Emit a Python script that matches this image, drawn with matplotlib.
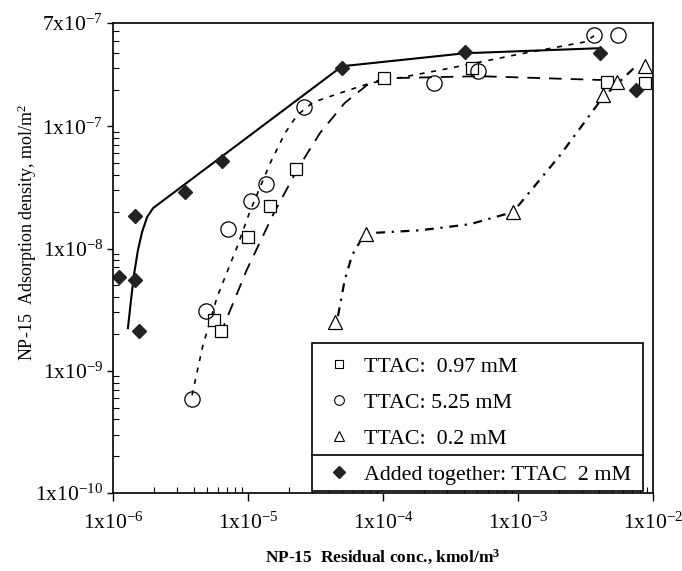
import numpy as np
import matplotlib
matplotlib.use("Agg")
import matplotlib.pyplot as plt
from matplotlib.lines import Line2D
from matplotlib.patches import Rectangle
from matplotlib.ticker import FixedLocator, LogLocator, NullFormatter

plt.rcParams['font.family'] = ['Liberation Serif', 'DejaVu Serif']
plt.rcParams['mathtext.fontset'] = 'custom'
plt.rcParams['mathtext.rm'] = 'Liberation Serif'
plt.rcParams['mathtext.default'] = 'regular'

# TTAC 0.97 mM (squares)
sq_x = [5.6e-6, 6.3e-6, 1.0e-5, 1.46e-5, 2.27e-5, 1.02e-4, 4.6e-4, 4.6e-3, 8.7e-3]
sq_y = [2.6e-9, 2.1e-9, 1.24e-8, 2.22e-8, 4.5e-8, 2.47e-7, 2.99e-7, 2.3e-7, 2.25e-7]
sq_fit_x = [6.2e-6, 9.8e-6, 1.53e-5, 2.31e-5, 3.41e-5, 5.2e-5, 7.6e-5, 1.02e-4, 5.2e-4, 4.8e-3]
sq_fit_y = [1.96e-9, 6.7e-9, 1.88e-8, 4.4e-8, 8.8e-8, 1.55e-7, 2.17e-7, 2.47e-7, 2.57e-7, 2.38e-7]

# TTAC 5.25 mM (circles)
ci_x = [3.85e-6, 4.9e-6, 7.1e-6, 1.05e-5, 1.36e-5, 2.6e-5, 2.39e-4, 5.06e-4, 3.66e-3, 5.5e-3]
ci_y = [5.9e-10, 3.1e-9, 1.44e-8, 2.44e-8, 3.4e-8, 1.43e-7, 2.25e-7, 2.82e-7, 5.56e-7, 5.56e-7]
ci_fit_x = [3.85e-6, 4.6e-6, 5.9e-6, 8.3e-6, 1.03e-5, 1.46e-5, 1.88e-5, 2.31e-5, 3.03e-5,
            4.8e-5, 8.0e-5, 2.64e-4, 1.03e-3, 3.13e-3, 3.66e-3]
ci_fit_y = [6.3e-10, 1.56e-9, 4.0e-9, 1.03e-8, 1.99e-8, 5.0e-8, 8.8e-8, 1.23e-7, 1.57e-7,
            1.87e-7, 2.25e-7, 2.88e-7, 3.9e-7, 4.9e-7, 5.5e-7]

# TTAC 0.2 mM (triangles)
tr_x = [4.4e-5, 7.5e-5, 9.2e-4, 4.26e-3, 5.4e-3, 8.7e-3]
tr_y = [2.5e-9, 1.31e-8, 1.99e-8, 1.8e-7, 2.3e-7, 3.1e-7]
tr_fit_x = [4.64e-5, 5.2e-5, 5.9e-5, 7.0e-5, 8.3e-5, 1.88e-4, 4.4e-4, 9.2e-4, 2.05e-3, 4.26e-3, 7.7e-3]
tr_fit_y = [2.8e-9, 5.5e-9, 8.8e-9, 1.22e-8, 1.34e-8, 1.41e-8, 1.58e-8, 1.99e-8, 5.8e-8, 1.73e-7, 3.2e-7]

# added together, TTAC 2 mM (filled diamonds)
di_x = [1.11e-6, 1.46e-6, 1.56e-6, 1.46e-6, 3.4e-6, 6.4e-6, 4.97e-5, 4.05e-4, 4.05e-3, 7.5e-3]
di_y = [5.8e-9, 5.5e-9, 2.1e-9, 1.84e-8, 2.9e-8, 5.2e-8, 2.99e-7, 4.04e-7, 3.96e-7, 2.0e-7]
di_fit_x = [1.29e-6, 1.36e-6, 1.43e-6, 1.53e-6, 1.64e-6, 1.79e-6, 1.98e-6, 4.97e-5, 4.05e-4, 3.92e-3, 4.05e-3]
di_fit_y = [2.23e-9, 3.8e-9, 6.1e-9, 9.7e-9, 1.36e-8, 1.81e-8, 2.14e-8, 3.1e-7, 3.96e-7, 4.35e-7, 3.96e-7]

labels = ['TTAC:  0.97 mM', 'TTAC: 5.25 mM', 'TTAC:  0.2 mM', 'Added together: TTAC  2 mM']
y_ticks = [1e-10, 1e-9, 1e-8, 1e-7, 7e-7]
y_ticklabels = ['1x10$^{-10}$', '1x10$^{-9}$', '1x10$^{-8}$', '1x10$^{-7}$', '7x10$^{-7}$']
x_ticks = [1e-6, 1e-5, 1e-4, 1e-3, 1e-2]
x_ticklabels = ['1x10$^{-6}$', '1x10$^{-5}$', '1x10$^{-4}$', '1x10$^{-3}$', '1x10$^{-2}$']

fig = plt.figure(figsize=(6.82, 5.71), dpi=100)
ax = fig.add_axes([113 / 682, 1 - 493 / 571, 540 / 682, 470 / 571])
ax.set_xscale('log')
ax.set_yscale('log')

ax.plot(sq_fit_x, sq_fit_y, color='k', lw=1.3, linestyle=(0, (7, 5)))
ax.plot(ci_fit_x, ci_fit_y, color='k', lw=1.2, linestyle=(0, (3, 4)))
ax.plot(tr_fit_x, tr_fit_y, color='k', lw=1.6, linestyle=(0, (4, 3, 1, 3)))
ax.plot(di_fit_x, di_fit_y, color='k', lw=1.5)

ax.plot(sq_x, sq_y, 's', ms=9, mfc='white', mec='k', mew=0.9, ls='none')
ax.plot(ci_x, ci_y, 'o', ms=11, mfc='none', mec='k', mew=0.9, ls='none')
ax.plot(tr_x, tr_y, '^', ms=10, mfc='white', mec='k', mew=0.9, ls='none')
ax.plot(di_x, di_y, 'D', ms=7.5, mfc='#222222', mec='#222222', ls='none')

ax.set_xlim(1e-6, 1e-2)
ax.set_ylim(1e-10, 7e-7)

ax.yaxis.set_major_locator(FixedLocator(y_ticks))
ax.set_yticklabels(y_ticklabels)
ax.xaxis.set_major_locator(FixedLocator(x_ticks))
ax.set_xticklabels(x_ticklabels)
ax.xaxis.set_minor_locator(LogLocator(base=10, subs=np.arange(2, 10)))
ax.yaxis.set_minor_locator(LogLocator(base=10, subs=np.arange(2, 10)))
ax.xaxis.set_minor_formatter(NullFormatter())
ax.yaxis.set_minor_formatter(NullFormatter())
ax.tick_params(axis='x', which='major', direction='out', length=6, width=1, labelsize=15.5, pad=8)
ax.tick_params(axis='y', which='major', direction='out', length=4, width=1, labelsize=15.5, pad=3)
ax.tick_params(which='minor', direction='in', length=4, width=0.8)
for s in ax.spines.values():
    s.set_linewidth(1.2)

ax.set_ylabel('NP-15  Adsorption density, mol/m$^2$', fontsize=13)
ax.yaxis.set_label_coords(-0.137, 0.555)
ax.set_xlabel('NP-15  Residual conc., kmol/m$^3$', fontsize=12.5, fontweight='bold', labelpad=10)

# legend box with divider
x0, x1, y0, y1, ymid = 0.369, 0.981, 0.004, 0.319, 0.081
ax.add_patch(Rectangle((x0, y0), x1 - x0, y1 - y0, transform=ax.transAxes,
                       fill=True, fc='white', ec='k', lw=1.2, zorder=5))
ax.plot([x0, x1], [ymid, ymid], transform=ax.transAxes, color='k', lw=1.2, zorder=6)

handles = [
    Line2D([], [], marker='s', ms=6, mfc='white', mec='k', mew=0.8, ls='none'),
    Line2D([], [], marker='o', ms=7, mfc='white', mec='k', mew=0.8, ls='none'),
    Line2D([], [], marker='^', ms=6.5, mfc='white', mec='k', mew=0.8, ls='none'),
    Line2D([], [], marker='D', ms=6, mfc='#222222', mec='#222222', ls='none'),
]
leg = ax.legend(handles, labels, loc='upper left', bbox_to_anchor=(x0 + 0.005, y1),
                frameon=False, fontsize=15.8, handlelength=1.0, handletextpad=0.65,
                labelspacing=0.72, borderpad=0.1)
leg.set_zorder(7)

fig.savefig('out.png', dpi=100)
